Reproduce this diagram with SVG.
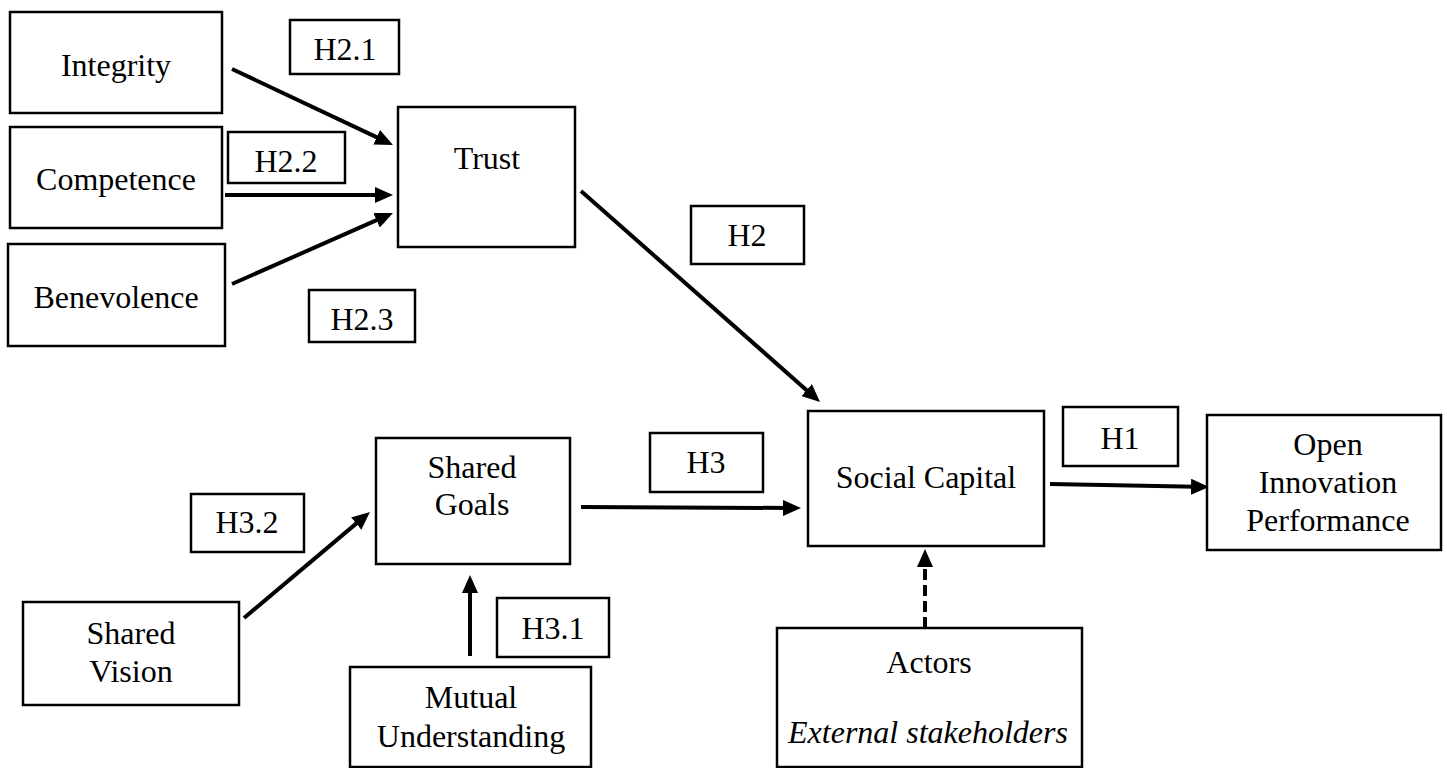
<svg xmlns="http://www.w3.org/2000/svg" width="1447" height="768" viewBox="0 0 1447 768">
  <style>
    .box { fill: #ffffff; stroke: #000000; stroke-width: 2.5; }
    .lbl { font-family: 'Liberation Serif', 'DejaVu Serif', serif; font-size: 32px; fill: #000000; text-anchor: middle; }
    .it { font-style: italic; }
    .arrow { fill: none; stroke: #000000; stroke-width: 4; marker-end: url(#head); }
    .dash { stroke-dasharray: 11 5; }
  </style>
  <defs>
    <marker id="head" markerUnits="userSpaceOnUse" markerWidth="18" markerHeight="16" refX="5" refY="8" orient="auto">
      <path d="M0,0 L18,8 L0,16 z" fill="#000000"/>
    </marker>
  </defs>

  <rect width="1447" height="768" fill="#ffffff"/>

  <!-- connectors -->
  <g id="connectors">
    <line class="arrow" x1="232" y1="69" x2="381.2" y2="139.4"/>
    <line class="arrow" x1="225" y1="195" x2="380" y2="195"/>
    <line class="arrow" x1="232" y1="284" x2="381.1" y2="218.2"/>
    <line class="arrow" x1="581" y1="191" x2="810.3" y2="393.4"/>
    <line class="arrow" x1="581" y1="507" x2="788" y2="508"/>
    <line class="arrow" x1="244" y1="618" x2="360" y2="520.4"/>
    <line class="arrow" x1="470" y1="656" x2="470" y2="588"/>
    <line class="arrow" x1="1050" y1="484" x2="1196" y2="486.8"/>
    <line class="arrow dash" x1="925" y1="628" x2="925" y2="562"/>
  </g>

  <!-- constructs -->
  <g id="integrity" font-family="Liberation Serif, serif">
    <rect class="box" x="10" y="12" width="212" height="101"/>
    <text class="lbl" x="116" y="76">Integrity</text>
  </g>
  <g id="competence">
    <rect class="box" x="10" y="127" width="212" height="101"/>
    <text class="lbl" x="116" y="190">Competence</text>
  </g>
  <g id="benevolence">
    <rect class="box" x="8" y="244" width="217" height="102"/>
    <text class="lbl" x="116" y="308">Benevolence</text>
  </g>
  <g id="trust">
    <rect class="box" x="398" y="107" width="177" height="140"/>
    <text class="lbl" x="487" y="169">Trust</text>
  </g>
  <g id="shared-goals">
    <rect class="box" x="376" y="438" width="194" height="126"/>
    <text class="lbl" x="472" y="478">Shared</text>
    <text class="lbl" x="472" y="515">Goals</text>
  </g>
  <g id="shared-vision">
    <rect class="box" x="23" y="602" width="216" height="103"/>
    <text class="lbl" x="131" y="644">Shared</text>
    <text class="lbl" x="131" y="682">Vision</text>
  </g>
  <g id="mutual-understanding">
    <rect class="box" x="350" y="667" width="241" height="100"/>
    <text class="lbl" x="471" y="708">Mutual</text>
    <text class="lbl" x="471" y="747">Understanding</text>
  </g>
  <g id="social-capital">
    <rect class="box" x="808" y="411" width="236" height="135"/>
    <text class="lbl" x="926" y="488">Social Capital</text>
  </g>
  <g id="open-innovation">
    <rect class="box" x="1207" y="415" width="234" height="135"/>
    <text class="lbl" x="1328" y="455">Open</text>
    <text class="lbl" x="1328" y="493">Innovation</text>
    <text class="lbl" x="1328" y="531">Performance</text>
  </g>
  <g id="actors">
    <rect class="box" x="777" y="628" width="305" height="139"/>
    <text class="lbl" x="929" y="673">Actors</text>
    <text class="lbl it" x="928" y="743">External stakeholders</text>
  </g>

  <!-- hypothesis labels -->
  <g id="h2-1">
    <rect class="box" x="290" y="20" width="109" height="54"/>
    <text class="lbl" x="345" y="60">H2.1</text>
  </g>
  <g id="h2-2">
    <rect class="box" x="228" y="132" width="117" height="51"/>
    <text class="lbl" x="286" y="172">H2.2</text>
  </g>
  <g id="h2-3">
    <rect class="box" x="309" y="290" width="106" height="52"/>
    <text class="lbl" x="362" y="330">H2.3</text>
  </g>
  <g id="h2">
    <rect class="box" x="691" y="206" width="113" height="58"/>
    <text class="lbl" x="747" y="246">H2</text>
  </g>
  <g id="h3">
    <rect class="box" x="650" y="433" width="113" height="59"/>
    <text class="lbl" x="706" y="473">H3</text>
  </g>
  <g id="h3-2">
    <rect class="box" x="191" y="494" width="113" height="58"/>
    <text class="lbl" x="247" y="533">H3.2</text>
  </g>
  <g id="h3-1">
    <rect class="box" x="497" y="598" width="112" height="59"/>
    <text class="lbl" x="553" y="639">H3.1</text>
  </g>
  <g id="h1">
    <rect class="box" x="1063" y="407" width="115" height="59"/>
    <text class="lbl" x="1120" y="449">H1</text>
  </g>
</svg>
